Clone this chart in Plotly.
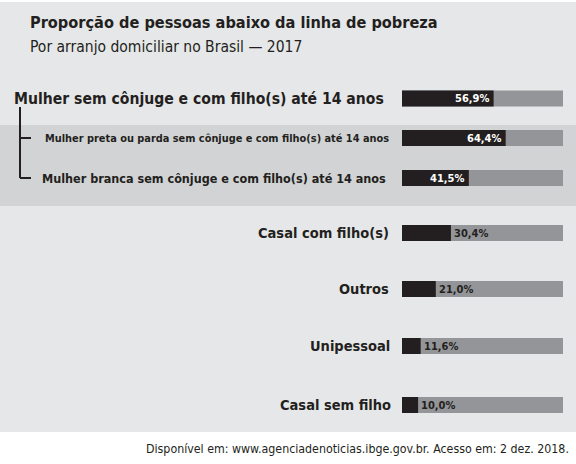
import plotly.graph_objects as go

# ---- data ----
categories = [
    "Mulher sem cônjuge e com filho(s) até 14 anos",
    "Mulher preta ou parda sem cônjuge e com filho(s) até 14 anos",
    "Mulher branca sem cônjuge e com filho(s) até 14 anos",
    "Casal com filho(s)",
    "Outros",
    "Unipessoal",
    "Casal sem filho",
]
values = [56.9, 64.4, 41.5, 30.4, 21.0, 11.6, 10.0]
value_labels = ["56,9%", "64,4%", "41,5%", "30,4%", "21,0%", "11,6%", "10,0%"]
title = "Proporção de pessoas abaixo da linha de pobreza"
subtitle = "Por arranjo domiciliar no Brasil — 2017"
source = "Disponível em: www.agenciadenoticias.ibge.gov.br. Acesso em: 2 dez. 2018."

# ---- layout constants (pixel-like vertical units) ----
W, H = 576, 464
row_y = [98.5, 138, 178, 233, 289, 346, 405]
row_kind = ["main", "sub", "sub", "other", "other", "other", "other"]
row_font = [15.6, 10.9, 12.5, 14.5, 14.5, 14.5, 14.5]
row_right = [None, 391, 388, 391, 391, 392, 393]
BAR_H = 16
FONT = "DejaVu Sans Condensed"
DARK = "#231f20"
GREY = "#939598"
PANEL = "#e6e7e8"
BAND = "#d1d3d4"

fig = go.Figure()
fig.add_trace(go.Bar(
    y=row_y, x=[100] * len(values), orientation="h", width=BAR_H,
    marker=dict(color=GREY, line=dict(width=0)), hoverinfo="skip",
))
fig.add_trace(go.Bar(
    y=row_y, x=values, orientation="h", width=BAR_H,
    marker=dict(color=DARK, line=dict(width=0)), hoverinfo="skip",
))

shapes = [
    dict(type="rect", xref="paper", yref="y", x0=0, x1=1, y0=2, y1=432,
         fillcolor=PANEL, line=dict(width=0), layer="below"),
    dict(type="rect", xref="paper", yref="y", x0=0, x1=1, y0=125, y1=206,
         fillcolor=BAND, line=dict(width=0), layer="below"),
    dict(type="line", xref="paper", yref="y", x0=20 / W, x1=20 / W,
         y0=107, y1=row_y[2], line=dict(color=DARK, width=2)),
]
for yy, k in zip(row_y, row_kind):
    if k == "sub":
        shapes.append(dict(type="line", xref="paper", yref="y", x0=20 / W, x1=31 / W,
                           y0=yy, y1=yy, line=dict(color=DARK, width=2)))

ann = [
    dict(text="<b>" + title + "</b>", x=28 / W, y=22, xref="paper", yref="y",
         xanchor="left", yanchor="middle", showarrow=False,
         font=dict(family=FONT, size=16.2, color="#231f20")),
    dict(text=subtitle, x=28 / W, y=47, xref="paper", yref="y",
         xanchor="left", yanchor="middle", showarrow=False,
         font=dict(family=FONT, size=15.5, color="#231f20")),
    dict(text=source, x=571 / W, y=449, xref="paper", yref="y",
         xanchor="right", yanchor="middle", showarrow=False,
         font=dict(family=FONT, size=12.3, color="#231f20")),
]
for cat, yy, k, fs, xr in zip(categories, row_y, row_kind, row_font, row_right):
    if k == "main":
        ann.append(dict(text="<b>" + cat + "</b>", x=12 / W, y=yy, xref="paper", yref="y",
                        xanchor="left", yanchor="middle", showarrow=False,
                        font=dict(family=FONT, size=fs, color="#231f20")))
    else:
        ann.append(dict(text="<b>" + cat + "</b>", x=xr / W, y=yy, xref="paper", yref="y",
                        xanchor="right", yanchor="middle", showarrow=False,
                        font=dict(family=FONT, size=fs, color="#231f20")))

for v, lab, yy in zip(values, value_labels, row_y):
    inside = v > 35
    ann.append(dict(text="<b>" + lab + "</b>", x=v, y=yy, xref="x", yref="y",
                    xanchor="right" if inside else "left", yanchor="middle",
                    xshift=-3 if inside else 1, showarrow=False,
                    font=dict(family=FONT, size=11, color="white" if inside else DARK)))

fig.update_layout(
    width=W, height=H, autosize=False,
    margin=dict(l=0, r=0, t=0, b=0),
    paper_bgcolor="white", plot_bgcolor="rgba(0,0,0,0)",
    barmode="overlay", showlegend=False,
    xaxis=dict(domain=[402 / W, 563 / W], range=[0, 100], visible=False, fixedrange=True),
    yaxis=dict(domain=[0, 1], range=[H, 0], visible=False, fixedrange=True),
    shapes=shapes, annotations=ann,
)
fig.write_html("out.html", config={"displayModeBar": False},
               post_script="document.body.style.margin='0px';")
